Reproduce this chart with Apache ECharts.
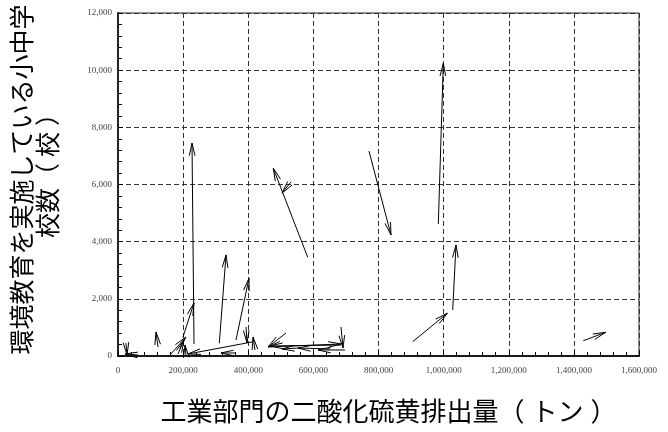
<!DOCTYPE html>
<html>
<head>
<meta charset="utf-8">
<script src="https://cdn.jsdelivr.net/npm/echarts@6/dist/echarts.min.js"></script>
<style>
  html, body { margin: 0; padding: 0; background: #fff; }
  #chart { width: 668px; height: 432px; }
</style>
</head>
<body>
<div id="chart"></div>
<script>
// Each arrow runs from (fromX, fromY) to (toX, toY):
// x = industrial SO2 emissions (t), y = schools running environmental education.
const fromX = [233400, 983700, 770800, 582600, 531300, 1027900, 905000, 1429000,
               311100, 362400, 199600, 122800, 24600, 61400, 516000, 460700,
               684800, 684800, 559000, 651000, 697000, 411500, 393100, 420700,
               159700, 184300, 208800, 359300];
const fromY = [420, 4620, 7170, 3455, 6090, 1610, 500, 535,
               445, 560, 665, 315, 455, 35, 805, 315,
               385, 1015, 280, 245, 210, 490, 1015, 210,
               35, 70, 35, 105];
const toX   = [227300, 999000, 838400, 477000, 503600, 1038000, 1011300, 1497700,
               331700, 402300, 233400, 116700, 27600, 21500, 460700, 684800,
               466800, 691000, 503600, 552800, 614200, 215000, 396200, 414600,
               208800, 202700, 205800, 316300];
const toY   = [7450, 10240, 4235, 6565, 5700, 3885, 1495, 830,
               3535, 2720, 1855, 840, 35, 70, 315, 420,
               350, 280, 245, 280, 210, 70, 455, 665,
               665, 560, 385, 105];

// Axis titles; full-width brackets get their own rich style for spacing.
const xName = '{x0|工業部門の二酸化硫黄排出量}{xl|（}{x|トン}{xr|）}';
const yName = '{y1|環境教育を実施している小中学}\n{y2|校数}{yl|（}{y|校}{yr|）}';

const arrows = fromX.map((x, i) => [x, fromY[i], toX[i], toY[i]]);

const fmt = v => Number(v).toLocaleString('en-US');

function renderArrow(params, api) {
  const p0 = api.coord([api.value(0), api.value(1)]);
  const p1 = api.coord([api.value(2), api.value(3)]);
  const ang = Math.atan2(p1[1] - p0[1], p1[0] - p0[0]);
  const L = 13, a = 0.22;
  const h1 = [p1[0] - L * Math.cos(ang - a), p1[1] - L * Math.sin(ang - a)];
  const h2 = [p1[0] - L * Math.cos(ang + a), p1[1] - L * Math.sin(ang + a)];
  const style = { stroke: '#000', lineWidth: 1, fill: null };
  return {
    type: 'group',
    children: [
      { type: 'line', shape: { x1: p0[0], y1: p0[1], x2: p1[0], y2: p1[1] }, style },
      { type: 'polyline', shape: { points: [h1, p1, h2] }, style }
    ]
  };
}

const xFont = { fontFamily: 'Noto Sans CJK JP', fontSize: 26, color: '#000' };
const yFont = { fontFamily: 'Noto Sans CJK JP', fontSize: 25, color: '#000' };
const with_ = (base, extra) => Object.assign({}, base, extra);
const xRich = {
  x: with_(xFont, {}),
  x0: with_(xFont, { padding: [0, 0, 0, 20] }),
  xl: with_(xFont, { padding: [0, 7, 0, 0] }),
  xr: with_(xFont, { padding: [0, 0, 0, 7] })
};
const yRich = {
  y: with_(yFont, {}),
  y1: with_(yFont, { padding: [0, 0, 0, 10] }),
  y2: with_(yFont, { padding: [0, 0, 0, 30] }),
  yl: with_(yFont, { padding: [0, 6, 0, 0] }),
  yr: with_(yFont, { padding: [0, 0, 0, 6] })
};

const chart = echarts.init(document.getElementById('chart'), null, { renderer: 'canvas' });

const tickLabel = { fontFamily: 'Liberation Serif', fontSize: 9, color: '#444' };
const gridLine = { show: true, lineStyle: { color: '#333', type: [5, 3], width: 1 } };

chart.setOption({
  animation: false,
  backgroundColor: '#fff',
  grid: { left: 118, right: 29, top: 13, bottom: 76, show: true, borderColor: '#222', borderWidth: 1 },
  xAxis: [{
    type: 'value', min: 0, max: 1600000, interval: 200000,
    name: xName, nameLocation: 'middle', nameGap: 42,
    nameTextStyle: with_(xFont, { rich: xRich }),
    axisLine: { show: true, onZero: false, lineStyle: { color: '#000', width: 2 } },
    axisTick: { show: true, inside: true, length: 5, lineStyle: { color: '#000' } },
    minorTick: { show: true, splitNumber: 5, length: 4, lineStyle: { color: '#000' } },
    axisLabel: Object.assign({ margin: 10, formatter: fmt }, tickLabel),
    splitLine: gridLine
  }, {
    type: 'value', position: 'top', min: 0, max: 1600000, interval: 200000,
    axisLine: { show: true, lineStyle: { color: '#222', width: 1.5 } },
    axisTick: { show: false }, axisLabel: { show: false }, splitLine: { show: false }
  }],
  yAxis: [{
    type: 'value', min: 0, max: 12000, interval: 2000,
    name: yName, nameLocation: 'middle', nameGap: 58, nameRotate: 90,
    nameTextStyle: with_(yFont, { rich: yRich, lineHeight: 26 }),
    axisLine: { show: true, onZero: false, lineStyle: { color: '#000', width: 1.5 } },
    axisTick: { show: true, inside: true, length: 5, lineStyle: { color: '#000' } },
    minorTick: { show: true, splitNumber: 5, length: 4, lineStyle: { color: '#000' } },
    axisLabel: Object.assign({ margin: 6, formatter: fmt }, tickLabel),
    splitLine: gridLine
  }, {
    type: 'value', position: 'right', min: 0, max: 12000, interval: 2000,
    axisLine: { show: true, lineStyle: { color: '#222', width: 2 } },
    axisTick: { show: false }, axisLabel: { show: false }, splitLine: { show: false }
  }],
  series: [{
    type: 'custom',
    renderItem: renderArrow,
    data: arrows,
    encode: { x: [0, 2], y: [1, 3] },
    clip: false,
    silent: true
  }]
});
</script>
</body>
</html>
